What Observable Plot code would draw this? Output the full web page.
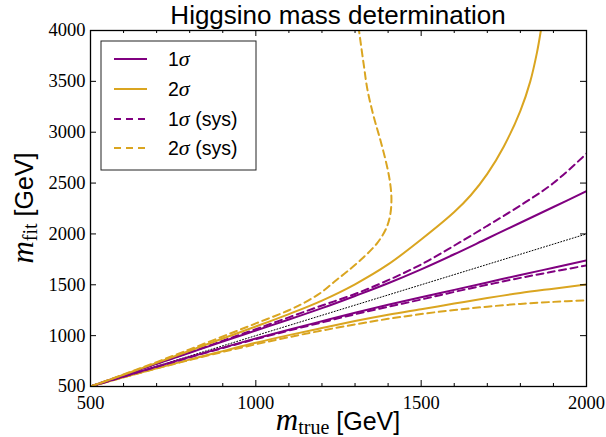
<!DOCTYPE html>
<html><head><meta charset="utf-8">
<script src="https://cdn.jsdelivr.net/npm/d3@7"></script>
<script src="https://cdn.jsdelivr.net/npm/@observablehq/plot@0.6"></script>
<style>body{margin:0;background:#fff;} svg{overflow:visible}</style>
</head><body><div id="chart"></div>
<script>
// ---- data ----
const title = "Higgsino mass determination";
const xMajorTicks = [500, 1000, 1500, 2000];
const xMinorTicks = [600, 700, 800, 900, 1100, 1200, 1300, 1400, 1600, 1700, 1800, 1900];
const yMajorTicks = [500, 1000, 1500, 2000, 2500, 3000, 3500, 4000];

const mTrue = [500, 600, 700, 800, 900, 1000, 1100, 1200, 1300, 1400, 1500, 1600, 1700, 1800, 1900, 2000];
const oneSigmaUp   = [500, 611, 722, 832, 942, 1050, 1158, 1270, 1390, 1515, 1652, 1800, 1955, 2110, 2265, 2420];
const oneSigmaLow  = [500, 598, 695, 790, 882, 972, 1058, 1142, 1225, 1303, 1377, 1450, 1523, 1596, 1668, 1740];
const oneSysUp     = [500, 612, 724, 836, 950, 1064, 1180, 1296, 1410, 1545, 1700, 1885, 2080, 2280, 2500, 2790];
const oneSysLow    = [500, 597, 693, 787, 878, 966, 1050, 1130, 1210, 1283, 1355, 1430, 1500, 1568, 1630, 1690];
const twoSigmaLow  = [500, 590, 680, 765, 848, 930, 1005, 1075, 1143, 1205, 1260, 1315, 1370, 1420, 1462, 1503];
const twoSysLow    = [500, 590, 678, 760, 840, 915, 985, 1050, 1110, 1165, 1212, 1252, 1285, 1312, 1332, 1347];

const twoSigmaUpX  = [500, 600, 700, 800, 900, 1000, 1100, 1200, 1300, 1400, 1500, 1600, 1650, 1700, 1750, 1800, 1830, 1850, 1862];
const twoSigmaUpY  = [500, 615, 732, 852, 972, 1090, 1212, 1345, 1505, 1700, 1945, 2215, 2380, 2590, 2860, 3210, 3500, 3780, 4000];

const twoSysUpX = [500, 600, 700, 800, 900, 1000, 1100, 1150, 1200, 1241, 1276, 1326, 1367, 1395, 1407, 1410, 1405, 1395, 1377, 1357, 1338, 1326, 1312];
const twoSysUpY = [500, 618, 740, 865, 992, 1120, 1250, 1330, 1430, 1540, 1630, 1771, 1910, 2060, 2200, 2360, 2525, 2689, 2918, 3147, 3410, 3672, 4000];

const diagonal = [500, 2000];

const legendNumbers = ["1", "2", "1", "2"];
const legendSuffix = ["", "", " (sys)", " (sys)"];
const purple = "#800080", gold = "#daa520";

// ---- build tables ----
const zip = (xs, ys) => xs.map((x, i) => ({x, y: ys[i]}));
const s1u = zip(mTrue, oneSigmaUp), s1l = zip(mTrue, oneSigmaLow);
const y1u = zip(mTrue, oneSysUp), y1l = zip(mTrue, oneSysLow);
const s2u = zip(twoSigmaUpX, twoSigmaUpY), s2l = zip(mTrue, twoSigmaLow);
const y2u = zip(twoSysUpX, twoSysUpY), y2l = zip(mTrue, twoSysLow);
const diag = zip(diagonal, diagonal);

const W = 606, H = 437, mL = 90, mR = 20, mT = 30, mB = 51;
const innerW = W - mL - mR, innerH = H - mT - mB;

const solid = (d, c) => Plot.line(d, {x: "x", y: "y", stroke: c, strokeWidth: 2, clip: true, curve: "catmull-rom"});
const dashed = (d, c) => Plot.line(d, {x: "x", y: "y", stroke: c, strokeWidth: 2, strokeDasharray: "7,4.5", clip: true, curve: "catmull-rom"});

const plot = Plot.plot({
  width: W, height: H,
  marginLeft: mL, marginRight: mR, marginTop: mT, marginBottom: mB,
  style: {fontFamily: "'Liberation Serif', serif", fontSize: "18px", background: "#fff", color: "#000"},
  x: {domain: [500, 2000], label: null},
  y: {domain: [500, 4000], label: null},
  marks: [
    Plot.line(diag, {x: "x", y: "y", stroke: "#000", strokeWidth: 1, strokeDasharray: "1,2"}),
    solid(s2l, gold), dashed(y2l, gold),
    solid(s1l, purple), dashed(y1l, purple),
    solid(s1u, purple), dashed(y1u, purple),
    solid(s2u, gold), dashed(y2u, gold),
    // inward ticks
    Plot.tickX(xMajorTicks, {x: d => d, insetTop: innerH - 6, stroke: "#000"}),
    Plot.tickX(xMajorTicks, {x: d => d, insetBottom: innerH - 6, stroke: "#000"}),
    Plot.tickX(xMinorTicks, {x: d => d, insetTop: innerH - 3, stroke: "#000"}),
    Plot.tickX(xMinorTicks, {x: d => d, insetBottom: innerH - 3, stroke: "#000"}),
    Plot.tickY(yMajorTicks, {y: d => d, insetRight: innerW - 6, stroke: "#000"}),
    Plot.tickY(yMajorTicks, {y: d => d, insetLeft: innerW - 6, stroke: "#000"}),
    Plot.axisX({ticks: xMajorTicks, anchor: "bottom", tickSize: 0, tickPadding: 9, tickFormat: d => String(d), label: null, fontSize: 18.5}),
    Plot.axisY({ticks: yMajorTicks, anchor: "left", tickSize: 0, tickPadding: 5, tickFormat: d => String(d), label: null, fontSize: 18.5}),
    Plot.frame({stroke: "#000", strokeWidth: 1.3})
  ]
});

const svg = d3.select(plot);
// title
svg.append("text").attr("x", mL + innerW / 2).attr("y", 24).attr("text-anchor", "middle")
  .attr("font-family", "'Liberation Sans', sans-serif").attr("font-size", 26).attr("fill", "#000").text(title);
// x-axis label
const xl = svg.append("text").attr("x", mL + innerW / 2).attr("y", 430).attr("text-anchor", "middle").attr("fill", "#000");
xl.append("tspan").attr("font-family", "'Liberation Serif', serif").attr("font-style", "italic").attr("font-size", 31).text("m");
xl.append("tspan").attr("font-family", "'Liberation Serif', serif").attr("font-size", 20).attr("dy", 4).text("true");
xl.append("tspan").attr("font-family", "'Liberation Sans', sans-serif").attr("font-size", 25).attr("dy", -4).text(" [GeV]");
// y-axis label
const yl = svg.append("text").attr("transform", `translate(33,${mT + innerH / 2}) rotate(-90)`).attr("text-anchor", "middle").attr("fill", "#000");
yl.append("tspan").attr("font-family", "'Liberation Serif', serif").attr("font-style", "italic").attr("font-size", 31).text("m");
yl.append("tspan").attr("font-family", "'Liberation Serif', serif").attr("font-size", 20).attr("dy", 4).text("fit");
yl.append("tspan").attr("font-family", "'Liberation Sans', sans-serif").attr("font-size", 25).attr("dy", -4).text(" [GeV]");

// legend
const lg = svg.append("g");
lg.append("rect").attr("x", 101).attr("y", 41).attr("width", 155).attr("height", 129).attr("fill", "#fff").attr("stroke", "#222").attr("stroke-width", 1);
const legendStyles = [
  {c: purple, dash: null}, {c: gold, dash: null}, {c: purple, dash: "7,5"}, {c: gold, dash: "7,5"}
];
const rowY = [59, 89, 119, 148];
legendNumbers.forEach((num, i) => {
  const st = legendStyles[i];
  const ln = lg.append("line").attr("x1", 114).attr("x2", 147).attr("y1", rowY[i]).attr("y2", rowY[i]).attr("stroke", st.c).attr("stroke-width", 2);
  if (st.dash) ln.attr("stroke-dasharray", st.dash);
  const t = lg.append("text").attr("x", 168).attr("y", rowY[i] + 7).attr("text-anchor", "start").attr("fill", "#000").attr("font-size", 19.5).attr("font-family", "'Liberation Sans', sans-serif").style("white-space", "pre");
  t.append("tspan").text(num);
  t.append("tspan").attr("font-family", "'Liberation Serif', serif").attr("font-style", "italic").attr("font-size", 22).text("σ");
  if (legendSuffix[i]) t.append("tspan").text(legendSuffix[i]);
});

document.getElementById("chart").appendChild(plot);
</script>
</body></html>
